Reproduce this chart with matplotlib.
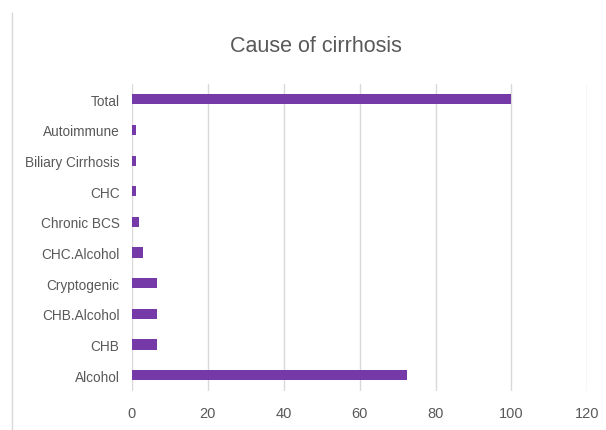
import matplotlib
matplotlib.use('Agg')
import matplotlib.pyplot as plt
from matplotlib.lines import Line2D

# data (percent of cases)
causes = ['Alcohol', 'CHB', 'CHB.Alcohol', 'Cryptogenic', 'CHC.Alcohol',
          'Chronic BCS', 'CHC', 'Biliary Cirrhosis', 'Autoimmune', 'Total']
percent = [72.38, 6.67, 6.67, 6.67, 2.86, 1.9, 0.95, 0.95, 0.95, 100]
xticks = [0, 20, 40, 60, 80, 100, 120]

plt.rcParams['font.family'] = ['Liberation Sans Narrow', 'Liberation Sans', 'DejaVu Sans']
text_color = '#595959'

fig = plt.figure(figsize=(6.06, 4.31), dpi=100)
ax = fig.add_axes([0.2178, 0.0916, 0.7513, 0.7114])

ax.barh(range(len(causes)), percent, height=0.33, color='#7639A8', zorder=3)

ax.set_xlim(0, 120)
ax.set_ylim(-0.5, len(causes) - 0.5)
ax.set_xticks(xticks)
ax.set_yticks(range(len(causes)))
ax.set_yticklabels(causes)
ax.grid(axis='x', color='#D9D9D9', linewidth=1, zorder=0)
for s in ax.spines.values():
    s.set_visible(False)
ax.tick_params(length=0, labelsize=9.8, colors=text_color, pad=9)
ax.tick_params(axis='x', labelsize=10.5, pad=11)

fig.text(0.521, 0.891, 'Cause of cirrhosis', ha='center', va='center',
         fontsize=15.5, color=text_color)

# partial chart border on the left
fig.add_artist(Line2D([0.0198, 0.0198], [0.0, 0.968], transform=fig.transFigure,
                      color='#D9D9D9', linewidth=1))

fig.savefig('out.png', dpi=100)
